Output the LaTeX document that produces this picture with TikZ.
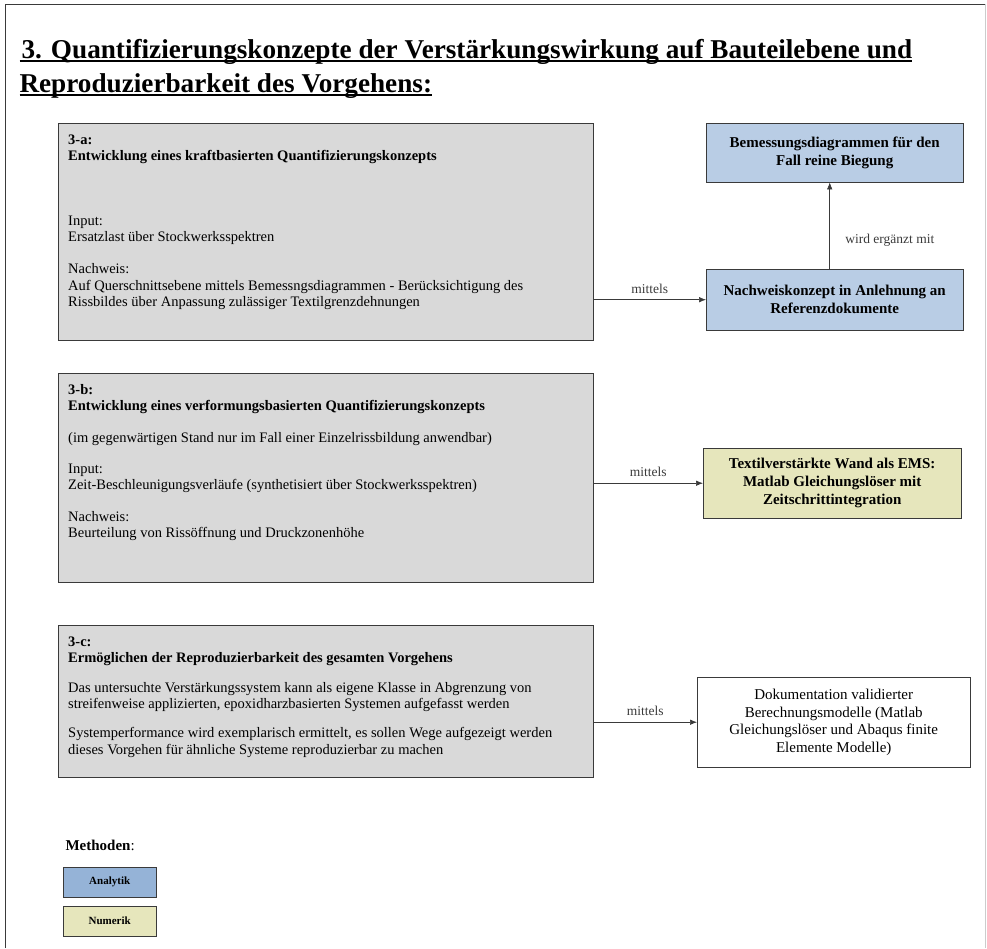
\documentclass[tikz,border=0pt]{standalone}
\usepackage{fontspec}
\setmainfont{Liberation Serif}
\usetikzlibrary{arrows.meta,shadows}

\definecolor{konzeptgrau}{HTML}{D9D9D9}
\definecolor{analytikblau}{HTML}{B9CDE5}
\definecolor{legendeblau}{HTML}{95B3D7}
\definecolor{numerikgelb}{HTML}{E6E6BC}
\definecolor{rahmen}{HTML}{3A3A3A}

\newcommand{\unterstrichen}[1]{\setbox0\hbox{#1}\rlap{\rule[-3.5pt]{\wd0}{1.7pt}}\box0}

\tikzset{
  schatten/.style={drop shadow={shadow xshift=1pt,shadow yshift=-1pt,fill=black!40}},
  konzept/.style={draw=rahmen, fill=konzeptgrau, schatten, anchor=north west,
    inner xsep=10pt, inner ysep=10pt, font=\fontsize{14.5}{16.3}\selectfont},
  methode/.style={draw=rahmen, schatten, anchor=north west, align=center,
    inner sep=0pt, font=\bfseries\fontsize{15}{18}\selectfont},
  mittel/.style={midway, anchor=south, inner sep=6pt, font=\fontsize{13.5}{15}\selectfont},
  legende/.style={draw=rahmen, schatten, anchor=north west, minimum width=93pt,
    minimum height=30pt, font=\bfseries\fontsize{11}{13}\selectfont},
}

\begin{document}
\begin{tikzpicture}[x=1pt, y=-1pt, >={Latex[length=7pt,width=5.5pt]}]
  \useasboundingbox (0,0) rectangle (987,948);
  \draw[rahmen, line width=1pt] (5,948) -- (5,4) -- (985,4);
  \draw[black!20] (985,4) -- (985,948);

  \node[anchor=north west, align=left, font=\bfseries\fontsize{27.2}{34}\selectfont] (titel) at (16,36)
    {\unterstrichen{\hspace{2pt}3. Quantifizierungskonzepte der Verstärkungswirkung auf Bauteilebene und}\\
     \unterstrichen{Reproduzierbarkeit des Vorgehens:}};

  % Konzepte
  \node[konzept] (k3a) at (58,123) {\parbox[c][197pt][t]{515pt}{\strut\textbf{3-a:}\\
    \textbf{Entwicklung eines kraftbasierten Quantifizierungskonzepts}\\[48pt]
    Input:\\
    Ersatzlast über Stockwerksspektren\\[16pt]
    Nachweis:\\
    Auf Querschnittsebene mittels Bemessngsdiagrammen - Berücksichtigung des\\
    Rissbildes über Anpassung zulässiger Textilgrenzdehnungen}};
  \node[konzept] (k3b) at (58,373) {\parbox[c][189pt][t]{515pt}{\strut\textbf{3-b:}\\
    \textbf{Entwicklung eines verformungsbasierten Quantifizierungskonzepts}\\[15pt]
    (im gegenwärtigen Stand nur im Fall einer Einzelrissbildung anwendbar)\\[15pt]
    Input:\\
    Zeit-Beschleunigungsverläufe (synthetisiert über Stockwerksspektren)\\[15pt]
    Nachweis:\\
    Beurteilung von Rissöffnung und Druckzonenhöhe}};
  \node[konzept] (k3c) at (58,625) {\parbox[c][132pt][t]{515pt}{\strut\textbf{3-c:}\\
    \textbf{Ermöglichen der Reproduzierbarkeit des gesamten Vorgehens}\\[13pt]
    Das untersuchte Verstärkungssystem kann als eigene Klasse in Abgrenzung von\\
    streifenweise applizierten, epoxidharzbasierten Systemen aufgefasst werden\\[13pt]
    Systemperformance wird exemplarisch ermittelt, es sollen Wege aufgezeigt werden\\
    dieses Vorgehen für ähnliche Systeme reproduzierbar zu machen}};

  % Methoden
  \node[methode, fill=analytikblau, minimum width=257pt, minimum height=59pt] (nBemess) at (706,123)
    {Bemessungsdiagrammen für den\\Fall reine Biegung};
  \node[methode, fill=analytikblau, minimum width=257pt, minimum height=61pt] (nNachweis) at (706,269)
    {Nachweiskonzept in Anlehnung an\\Referenzdokumente};
  \node[methode, fill=numerikgelb, minimum width=258pt, minimum height=70pt] (nEMS) at (703,448)
    {Textilverstärkte Wand als EMS:\\Matlab Gleichungslöser mit\\Zeitschrittintegration};
  \node[methode, fill=white, minimum width=273pt, minimum height=90pt,
    font=\fontsize{15}{17.5}\selectfont] (nDoku) at (697,677)
    {Dokumentation validierter\\Berechnungsmodelle (Matlab\\Gleichungslöser und Abaqus finite\\Elemente Modelle)};

  \draw[->, rahmen, semithick] (k3a.east |- nNachweis.west) -- (nNachweis.west) node[mittel] {mittels};
  \draw[->, rahmen, semithick] (k3b.east |- nEMS.west) -- (nEMS.west) node[mittel] {mittels};
  \draw[->, rahmen, semithick] (k3c.east |- nDoku.west) -- (nDoku.west) node[mittel] {mittels};
  \draw[->, rahmen, semithick] ([xshift=-5pt]nNachweis.north) -- ([xshift=-5pt]nBemess.south)
    node[pos=0.33, anchor=west, xshift=12pt, font=\fontsize{13.5}{15}\selectfont] {wird ergänzt mit};

  % Legende
  \node[anchor=west, font=\fontsize{15}{17}\selectfont] (methoden) at (62,845) {\textbf{Methoden}:};
  \node[legende, fill=legendeblau] (lAnalytik) at (63,867) {Analytik};
  \node[legende, fill=numerikgelb] (lNumerik) at (63,906) {Numerik};
\end{tikzpicture}
\end{document}
